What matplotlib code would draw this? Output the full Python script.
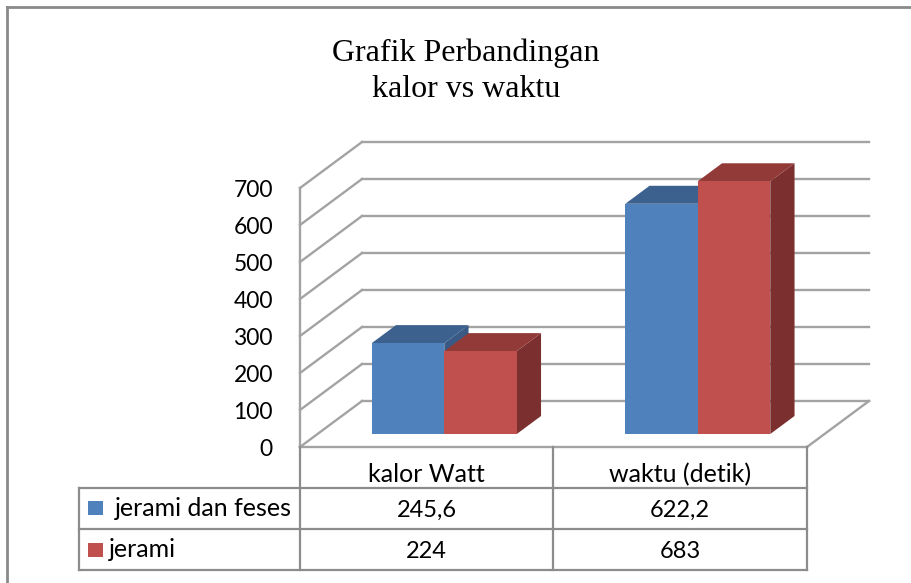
import numpy as np
import matplotlib as mpl
mpl.use('Agg')
import matplotlib.pyplot as plt
from matplotlib.patches import Polygon, Rectangle

categories = ["kalor Watt", "waktu (detik)"]
series_names = ["jerami dan feses", "jerami"]
values_feses = [245.6, 622.2]
values_jerami = [224, 683]
value_labels = [["245,6", "622,2"], ["224", "683"]]
yticks = [0, 100, 200, 300, 400, 500, 600, 700]

front_colors = ["#4f81bd", "#c0504d"]
top_colors = ["#3c618f", "#923a37"]
side_colors = ["#385a85", "#7b2f2e"]
grid_col = "#a3a3a3"

W, H = 912, 583
fig = plt.figure(figsize=(W / 100, H / 100), dpi=100)

def fx(px):
    return px / W

def fy(py):
    return 1 - py / H

# plot area: x in category units, y in values
ax = fig.add_axes([fx(300), fy(447), fx(807) - fx(300), fy(188) - fy(447)])
ax.set_xlim(0, len(categories))
ax.set_ylim(0, 700)
ax.axis("off")

# oblique depth of the floor, in data units
DX = 62 / 253.5
DY = 46 / 0.37
d0, d1 = 0.283, 0.674  # bar front/back depth (fraction of floor)
bw = 0.286

def proj(x, y, d):
    return (x + DX * d, y + DY * d)

# walls and grid
for v in yticks:
    a = proj(0, v, 1)
    b = proj(len(categories), v, 1)
    ax.plot([a[0], b[0]], [a[1], b[1]], color=grid_col, lw=1.7, clip_on=False, zorder=1)
    ax.plot([0, a[0]], [v, a[1]], color=grid_col, lw=1.7, clip_on=False, zorder=1)
ax.plot([0, 0], [0, 700], color=grid_col, lw=1.7, clip_on=False, zorder=1)
ax.plot([0, len(categories)], [0, 0], color=grid_col, lw=1.7, clip_on=False, zorder=1)
e = proj(len(categories), 0, 1)
ax.plot([len(categories), e[0]], [0, e[1]], color=grid_col, lw=1.7, clip_on=False, zorder=1)

# 3d bars
z = 2
for i in range(len(categories)):
    for s, vals in enumerate([values_feses, values_jerami]):
        x0 = i + 0.5 - bw + s * bw
        x1 = x0 + bw
        h = vals[i]
        side = [proj(x1, 0, d0), proj(x1, 0, d1), proj(x1, h, d1), proj(x1, h, d0)]
        top = [proj(x0, h, d0), proj(x0, h, d1), proj(x1, h, d1), proj(x1, h, d0)]
        front = [proj(x0, 0, d0), proj(x1, 0, d0), proj(x1, h, d0), proj(x0, h, d0)]
        ax.add_patch(Polygon(side, closed=True, facecolor=side_colors[s], edgecolor="none", zorder=z, clip_on=False))
        ax.add_patch(Polygon(top, closed=True, facecolor=top_colors[s], edgecolor="none", zorder=z, clip_on=False))
        ax.add_patch(Polygon(front, closed=True, facecolor=front_colors[s], edgecolor="none", zorder=z + 0.5, clip_on=False))
        z += 1

# y tick labels
for v in yticks:
    ax.text(-27 / 253.5, v - 9 / 0.37, str(v), ha="right", va="baseline", fontsize=16.5,
            family="Lato", color="#000000", clip_on=False)

# title
fig.text(fx(466), fy(61), "Grafik Perbandingan", ha="center", va="baseline",
         fontsize=23, family="Liberation Serif")
fig.text(fx(466), fy(97), "kalor vs waktu", ha="center", va="baseline",
         fontsize=23, family="Liberation Serif")

# data table
tcol = "#8c8c8c"
col_x = [79, 300, 553, 807]
row_y = [447, 487.5, 529, 570]
for x in col_x[1:]:
    fig.add_artist(plt.Line2D([fx(x), fx(x)], [fy(447), fy(570)], color=tcol, lw=1.6))
fig.add_artist(plt.Line2D([fx(79), fx(79)], [fy(487.5), fy(570)], color=tcol, lw=1.6))
for y in row_y[1:]:
    fig.add_artist(plt.Line2D([fx(79), fx(807)], [fy(y), fy(y)], color=tcol, lw=1.6))

for i, cat in enumerate(categories):
    cx = (col_x[i + 1] + col_x[i + 2]) / 2
    fig.text(fx(cx), fy(482), cat, ha="center", va="baseline", fontsize=18, family="Lato")
    for s in range(len(series_names)):
        base = row_y[s + 2] - 12.5
        fig.text(fx(cx), fy(base), value_labels[s][i], ha="center", va="baseline",
                 fontsize=17, family="Lato")

label_x = [115, 109]
for s, name in enumerate(series_names):
    cy = (row_y[s + 1] + row_y[s + 2]) / 2
    fig.add_artist(Rectangle((fx(88), fy(cy + 7)), fx(15), 14 / H,
                             facecolor=front_colors[s], edgecolor="none"))
    fig.text(fx(label_x[s]), fy(row_y[s + 2] - 13), name, ha="left", va="baseline",
             fontsize=18, family="Lato")

# outer frame (left and top)
fig.add_artist(plt.Line2D([fx(7), fx(7)], [fy(7), 0], color="#8a8a8a", lw=2))
fig.add_artist(plt.Line2D([fx(7), 1], [fy(7), fy(7)], color="#8a8a8a", lw=2))

fig.savefig("out.png", dpi=100)
